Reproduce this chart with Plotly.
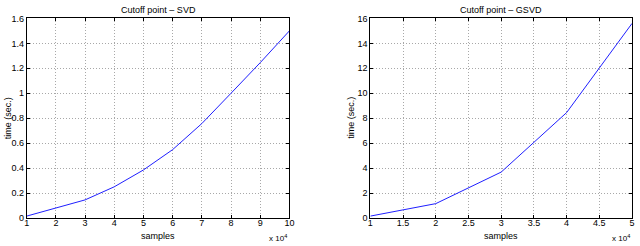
import plotly.graph_objects as go

W, H = 640, 246

svd_samples = [1, 2, 3, 4, 5, 6, 7, 8, 9, 10]
svd_time = [0.015, 0.078, 0.145, 0.25, 0.385, 0.548, 0.757, 1.0, 1.245, 1.50]

gsvd_samples = [1, 2, 3, 4, 5]
gsvd_time = [0.15, 1.15, 3.68, 8.45, 15.6]

titles = ["Cutoff point \u2013 SVD", "Cutoff point \u2013 GSVD"]
xlabel = "samples"
ylabel = "time (sec.)"

def fx(p):
    return p / W

def fy(p):
    return 1 - p / H

FONT = "Liberation Sans, Arial, sans-serif"

fig = go.Figure()
fig.add_trace(go.Scatter(x=svd_samples, y=svd_time, mode="lines",
                         line=dict(color="#1f1fff", width=1), xaxis="x", yaxis="y",
                         showlegend=False, hoverinfo="skip"))
fig.add_trace(go.Scatter(x=gsvd_samples, y=gsvd_time, mode="lines",
                         line=dict(color="#1f1fff", width=1), xaxis="x2", yaxis="y2",
                         showlegend=False, hoverinfo="skip"))

left = (24, 290)
right = (372, 637)
top, bottom = 14, 222

axis_common = dict(
    showline=True, linecolor="black", linewidth=1, mirror="ticks",
    ticks="inside", ticklen=3, tickcolor="black",
    showgrid=True, gridcolor="#a8a8a8", griddash="1px,2px", gridwidth=1,
    zeroline=False, tickfont=dict(family=FONT, size=9, color="black"),
    fixedrange=True,
)

fig.update_layout(
    width=W, height=H, margin=dict(l=0, r=0, t=0, b=0),
    paper_bgcolor="white", plot_bgcolor="white",
    font=dict(family=FONT, size=9, color="black"),
    xaxis=dict(domain=[fx(left[0]), fx(left[1])], range=[1, 10], dtick=1, tick0=1,
               anchor="y", ticklabelstandoff=-4, **axis_common),
    yaxis=dict(domain=[fy(bottom), fy(top)], range=[0, 1.6], dtick=0.2, tick0=0,
               anchor="x", **axis_common),
    xaxis2=dict(domain=[fx(right[0]), fx(right[1])], range=[1, 5], dtick=0.5, tick0=1,
                anchor="y2", ticklabelstandoff=-4, **axis_common),
    yaxis2=dict(domain=[fy(bottom), fy(top)], range=[0, 16], dtick=2, tick0=0,
                anchor="x2", **axis_common),
)

ann = []
for (l, r), t, ylx in [(left, titles[0], 5), (right, titles[1], 353)]:
    cx = (l + r) / 2
    ann.append(dict(text=t, x=fx(cx), y=fy(5), xref="paper", yref="paper",
                    showarrow=False, xanchor="center", yanchor="middle",
                    font=dict(family=FONT, size=9)))
    ann.append(dict(text=xlabel, x=fx(cx), y=fy(241), xref="paper", yref="paper",
                    showarrow=False, xanchor="center", yanchor="middle",
                    font=dict(family=FONT, size=9)))
    ann.append(dict(text=ylabel, x=fx(ylx), y=fy((top + bottom) / 2), xref="paper",
                    yref="paper", showarrow=False, textangle=-90,
                    xanchor="center", yanchor="middle",
                    font=dict(family=FONT, size=9)))
    ann.append(dict(text="x 10<sup>4</sup>", x=fx(r), y=fy(243), xref="paper",
                    yref="paper", showarrow=False, xanchor="right", yanchor="middle",
                    font=dict(family=FONT, size=8)))
fig.update_layout(annotations=ann)

fig.write_html("out.html", config={"displayModeBar": False, "staticPlot": True},
               post_script="document.body.style.margin='0';document.body.style.padding='0';"
                           "document.body.style.overflow='hidden';")
